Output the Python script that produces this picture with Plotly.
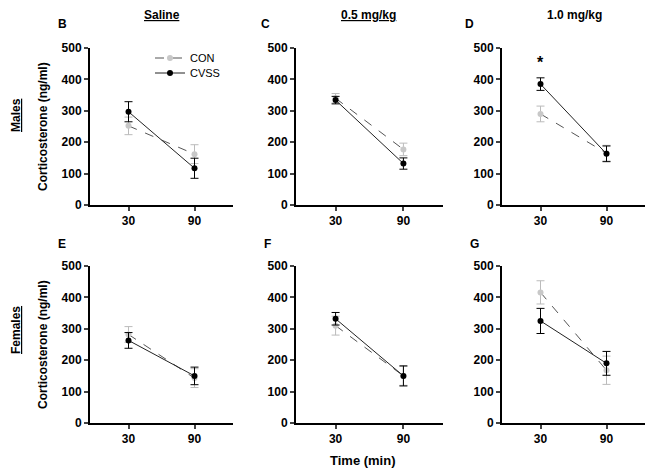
import plotly.graph_objects as go

times = [30, 90]
panels = ["B", "C", "D", "E", "F", "G"]
col_titles = ["Saline", "0.5 mg/kg", "1.0 mg/kg"]
row_titles = ["Males", "Females"]

# CON means / SEM per panel
con_mean = {"B": [252, 162], "C": [340, 177], "D": [290, 165],
            "E": [282, 143], "F": [310, 150], "G": [416, 168]}
con_err = {"B": [28, 30], "C": [15, 20], "D": [25, 25],
           "E": [25, 30], "F": [30, 30], "G": [37, 45]}
cvss_mean = {"B": [297, 117], "C": [334, 132], "D": [385, 163],
             "E": [263, 150], "F": [332, 150], "G": [325, 190]}
cvss_err = {"B": [32, 32], "C": [12, 18], "D": [20, 25],
            "E": [25, 28], "F": [20, 32], "G": [40, 38]}

FONT = "Arial, Liberation Sans, sans-serif"
fig = go.Figure()

xdom = [[90/654, 233/654], [296/654, 443/654], [502/654, 645/654]]
ydom = [[(474-205)/474, (474-48)/474], [(474-423)/474, (474-266)/474]]

for i, p in enumerate(panels):
    r, c = divmod(i, 3)
    n = i + 1
    xa = "x" if n == 1 else f"x{n}"
    ya = "y" if n == 1 else f"y{n}"
    fig.add_trace(go.Scatter(
        x=times, y=con_mean[p], xaxis=xa, yaxis=ya, name="CON",
        mode="lines+markers", showlegend=(i == 0), legend="legend",
        line=dict(color="#555555", width=1, dash="dash"),
        marker=dict(color="#c8c8c8", size=6, symbol="circle"),
        error_y=dict(type="data", array=con_err[p], color="#bbbbbb", thickness=1, width=4)))
    fig.add_trace(go.Scatter(
        x=times, y=cvss_mean[p], xaxis=xa, yaxis=ya, name="CVSS",
        mode="lines+markers", showlegend=(i == 0), legend="legend2",
        line=dict(color="#222222", width=1),
        marker=dict(color="black", size=6, symbol="circle"),
        error_y=dict(type="data", array=cvss_err[p], color="black", thickness=1, width=4)))
    axkey = "xaxis" if n == 1 else f"xaxis{n}"
    aykey = "yaxis" if n == 1 else f"yaxis{n}"
    fig.layout[axkey] = dict(domain=xdom[c], anchor=ya, range=[-5, 125], automargin=False,
                             tickvals=times, ticks="outside", ticklen=4, tickwidth=1.5,
                             showline=True, linecolor="black", linewidth=2,
                             showgrid=False, zeroline=False,
                             tickfont=dict(family=FONT, size=12, color="black", weight="bold"))
    fig.layout[aykey] = dict(domain=ydom[r], anchor=xa, range=[0, 500], automargin=False,
                             tickvals=[0, 100, 200, 300, 400, 500], ticks="outside", ticklen=4, tickwidth=1.5,
                             showline=True, linecolor="black", linewidth=2,
                             showgrid=False, zeroline=False,
                             tickfont=dict(family=FONT, size=12, color="black", weight="bold"))

annots = []
A = dict(xref="paper", yref="paper", xanchor="center", yanchor="middle", showarrow=False)
letter_pos = {"B": (62, 24), "C": (265, 24), "D": (469, 24),
              "E": (62, 244), "F": (267, 244), "G": (474, 244)}
for p, (px, py) in letter_pos.items():
    annots.append(dict(A, x=px/654, y=1-py/474, text=f"<b>{p}</b>",
                       font=dict(family=FONT, size=12, color="black")))
title_x = [162, 368, 574]
for t, tx in zip(col_titles, title_x):
    txt = f"<b>{t}</b>" if t == "1.0 mg/kg" else f"<b><u>{t}</u></b>"
    annots.append(dict(A, x=tx/654, y=1-15/474, text=txt,
                       font=dict(family=FONT, size=12, color="black")))
for t, ty in zip(row_titles, [115, 330]):
    annots.append(dict(A, x=16/654, y=1-ty/474, text=f"<b><u>{t}</u></b>", textangle=-90,
                       font=dict(family=FONT, size=12, color="black")))
for ty in [127, 345]:
    annots.append(dict(A, x=43/654, y=1-ty/474, text="<b>Corticosterone (ng/ml)</b>", textangle=-90,
                       font=dict(family=FONT, size=12, color="black")))
annots.append(dict(A, x=363/654, y=1-460/474, text="<b>Time (min)</b>",
                   font=dict(family=FONT, size=13, color="black")))
annots.append(dict(x=30, y=455, xref="x3", yref="y3", text="<b>*</b>", showarrow=False,
                   xanchor="center", yanchor="middle",
                   font=dict(family=FONT, size=16, color="black")))

LEG = dict(xanchor="left", yanchor="middle", bgcolor="rgba(0,0,0,0)",
           font=dict(family=FONT, size=11, color="black"), itemwidth=30)
fig.update_layout(
    width=654, height=474, margin=dict(l=0, r=0, t=0, b=0, autoexpand=False),
    paper_bgcolor="white", plot_bgcolor="white",
    annotations=annots,
    legend=dict(LEG, x=150/654, y=1-58/474),
    legend2=dict(LEG, x=150/654, y=1-73/474),
)
fig.write_html("out.html", config={"displayModeBar": False},
               post_script="document.body.style.margin='0px';")
